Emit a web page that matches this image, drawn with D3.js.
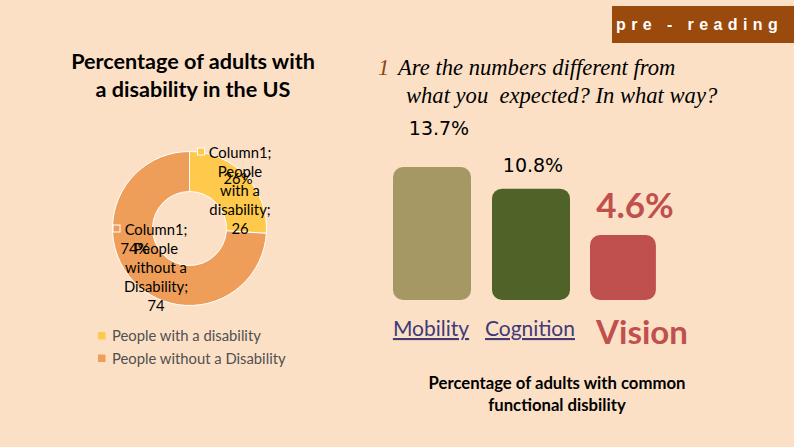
<!DOCTYPE html>
<html><head><meta charset="utf-8">
<script src="https://cdn.jsdelivr.net/npm/d3@7/dist/d3.min.js"></script>
<style>
html,body{margin:0;padding:0;background:#FCE0C6;}
svg{display:block;}
text{white-space:pre;}
</style></head>
<body>
<svg id="c" width="794" height="447"></svg>
<script>
// ---- data ----
const pieCategories = ["People with a disability", "People without a Disability"];
const pieValues = [26, 74];
const pieSeriesName = "Column1";
const pieLabelLines = [["People", "with a", "disability;"], ["People", "without a", "Disability;"]];
const barCategories = ["Mobility", "Cognition", "Vision"];
const barValues = [13.7, 10.8, 4.6];
const barLabels = ["13.7%", "10.8%", "4.6%"];

const svg = d3.select("#c");
const font = "Lato, 'Open Sans', sans-serif";
svg.append("rect").attr("width", 794).attr("height", 447).attr("fill", "#FCE0C6");

// header tag
svg.append("rect").attr("x", 612).attr("y", 6).attr("width", 182).attr("height", 37).attr("fill", "#9A4A0C");
svg.append("text").attr("x", 616).attr("y", 30).attr("fill", "#fff")
  .attr("font-family", "'Liberation Sans', Arial, sans-serif").attr("font-weight", "bold")
  .attr("font-size", 16).attr("letter-spacing", "5.4px").text("pre - reading");

// pie title
const title = svg.append("text").attr("text-anchor", "middle").attr("font-family", font)
  .attr("font-weight", "bold").attr("font-size", 21.6).attr("fill", "#000");
title.append("tspan").attr("x", 193).attr("y", 69).text("Percentage of adults with");
title.append("tspan").attr("x", 193).attr("y", 97).text("a disability in the US");

// donut
const pieColors = d3.scaleOrdinal().domain(pieCategories).range(["#FFCA4B", "#EF9E5A"]);
const cx = 189.5, cy = 228.5;
const arcs = d3.pie().sort(null)(pieValues);
const arcGen = d3.arc().innerRadius(37).outerRadius(77);
const g = svg.append("g").attr("transform", `translate(${cx},${cy})`);
g.selectAll("path").data(arcs).join("path")
  .attr("d", arcGen).attr("fill", (d, i) => pieColors(pieCategories[i]))
  .attr("stroke", "#fff").attr("stroke-width", 1);

// donut data labels (overlapping, as in the reference)
const total = d3.sum(pieValues);
const labelPos = [{x: 240, y: 158, mx: 201, pct: [238, 184]}, {x: 156, y: 235, mx: 116.5, pct: [135, 254]}];
arcs.forEach((a, i) => {
  const p = labelPos[i];
  const lab = svg.append("g").attr("font-family", font).attr("font-size", 14.8).attr("fill", "#000");
  lab.append("rect").attr("x", p.mx - 3.5).attr("y", p.y - 10).attr("width", 7).attr("height", 7)
    .attr("fill", pieColors(pieCategories[i])).attr("stroke", "#fff").attr("stroke-width", 1);
  const lines = [pieSeriesName + ";"].concat(pieLabelLines[i]).concat([String(pieValues[i])]);
  lines.forEach((t, k) => {
    lab.append("text").attr("text-anchor", "middle")
      .attr("x", p.x).attr("y", p.y + k * 18.9).text(t);
  });
  lab.append("text").attr("text-anchor", "middle").attr("x", p.pct[0])
    .attr("y", p.pct[1]).text(Math.round(pieValues[i] / total * 100) + "%");
});

// legend
const leg = svg.append("g").attr("font-family", font).attr("font-size", 14.8).attr("fill", "#505050");
pieCategories.forEach((c, i) => {
  const y = 336 + i * 22.5;
  leg.append("rect").attr("x", 98).attr("y", y - 4).attr("width", 7.5).attr("height", 7.5).attr("fill", pieColors(c));
  leg.append("text").attr("x", 112).attr("y", y + 5).text(c);
});

// question
const q = svg.append("text").attr("font-family", "'Liberation Serif', 'Times New Roman', serif")
  .attr("font-style", "italic").attr("font-size", 22.6).attr("fill", "#000");
q.append("tspan").attr("x", 378).attr("y", 75).attr("fill", "#8B4513").text("1");
q.append("tspan").attr("x", 398).attr("y", 75).text("Are the numbers different from");
q.append("tspan").attr("x", 406).attr("y", 103).text("what you  expected? In what way?");

// bars
const barColors = d3.scaleOrdinal().domain(barCategories).range(["#A69864", "#4F6227", "#C0504D"]);
const x = d3.scaleBand().domain(barCategories).range([393, 669]).paddingInner(21 / 99).paddingOuter(0);
const y = d3.scaleLinear().domain([-4.1, 13.7]).range([300, 167]);
const bw = (i) => i === 2 ? x.bandwidth() * 0.845 : x.bandwidth();
svg.selectAll("rect.bar").data(barValues).join("rect").attr("class", "bar")
  .attr("x", (d, i) => x(barCategories[i]) - (i === 2 ? 1 : 0))
  .attr("y", d => y(d)).attr("width", (d, i) => bw(i)).attr("height", d => y(-4.1) - y(d))
  .attr("rx", 10).attr("fill", (d, i) => barColors(barCategories[i]));

// value labels
barValues.forEach((v, i) => {
  const big = i === 2;
  svg.append("text")
    .attr("font-family", big ? font : "'DejaVu Sans', sans-serif")
    .attr("text-anchor", "middle")
    .attr("font-weight", big ? "bold" : "normal")
    .attr("font-size", big ? 35 : 19)
    .attr("fill", big ? "#C0504D" : "#000")
    .attr("x", big ? 635 : (i === 0 ? 439 : 533))
    .attr("y", big ? y(v) - 17 : y(v) - 32 + (i === 1 ? 15 : 0))
    .text(barLabels[i]);
});

// category labels
barCategories.forEach((c, i) => {
  const big = i === 2;
  svg.append("text").attr("font-family", font).attr("text-anchor", "middle")
    .attr("font-weight", big ? "bold" : "normal")
    .attr("font-size", big ? 33 : 21)
    .attr("fill", big ? "#C0504D" : "#403A78")
    .attr("text-decoration", big ? "none" : "underline")
    .attr("x", big ? 642 : x(c) + x.bandwidth() / 2 - 1)
    .attr("y", big ? 344 : 336)
    .text(c);
});

// bar subtitle
const st = svg.append("text").attr("text-anchor", "middle").attr("font-family", font)
  .attr("font-weight", "bold").attr("font-size", 16.7).attr("fill", "#000");
st.append("tspan").attr("x", 557).attr("y", 389).text("Percentage of adults with common");
st.append("tspan").attr("x", 557).attr("y", 411).text("functional disbility");
</script>
</body></html>
